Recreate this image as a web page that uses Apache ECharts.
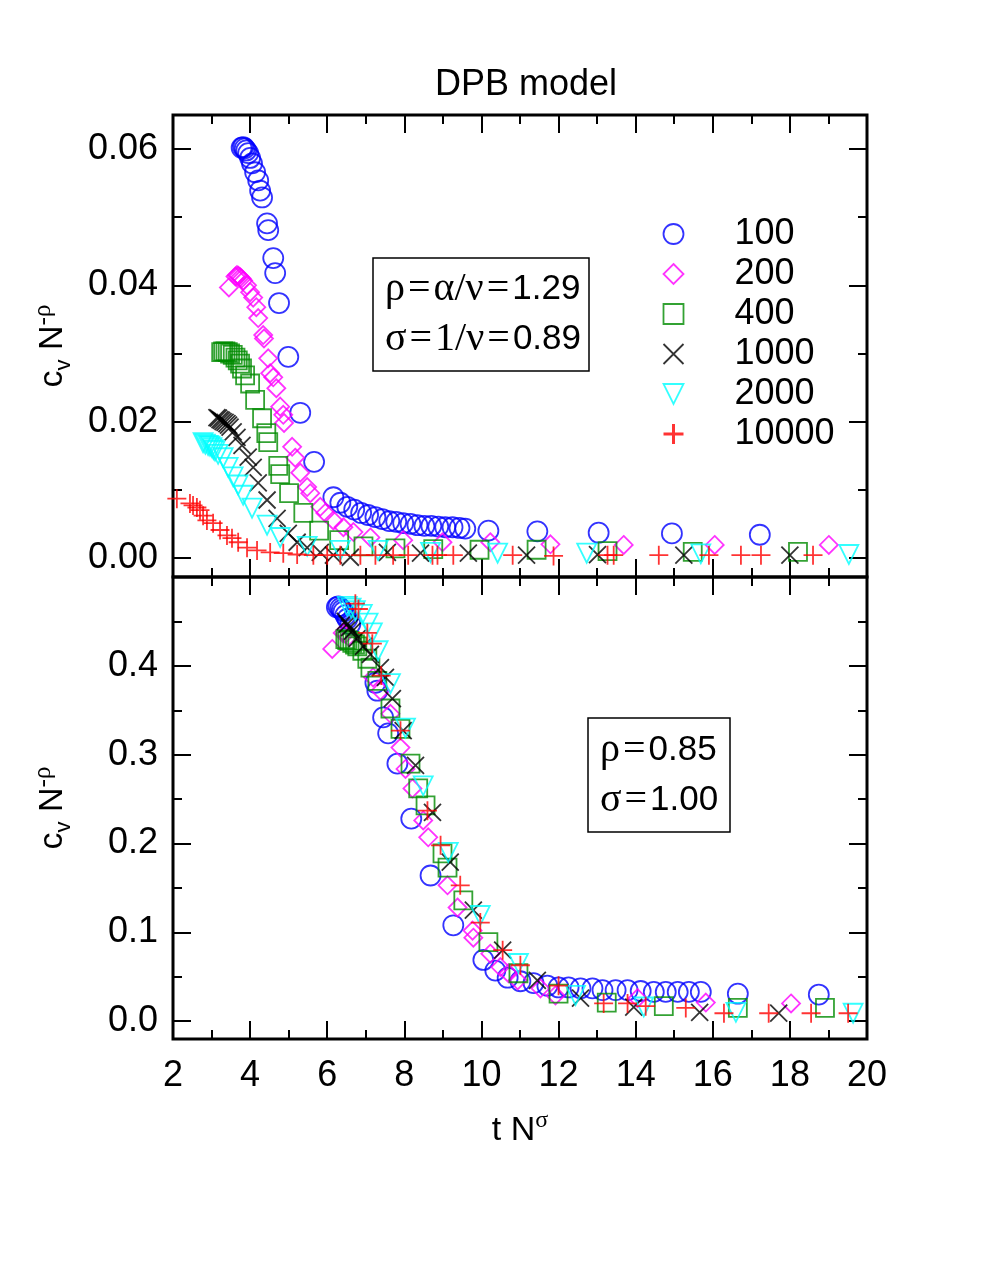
<!DOCTYPE html>
<html>
<head>
<meta charset="utf-8">
<script src="https://cdn.jsdelivr.net/npm/echarts@6/dist/echarts.min.js"></script>
<style>html,body{margin:0;padding:0;background:#fff}#c{width:981px;height:1270px}</style>
</head>
<body>
<div id="c"></div>
<script>
// ---------- data ----------
const seriesNames = ['100', '200', '400', '1000', '2000', '10000'];
const xTicks = [2, 4, 6, 8, 10, 12, 14, 16, 18, 20];
const topMajorTicks = [0, 0.02, 0.04, 0.06];
const topMinorTicks = [0.01, 0.03, 0.05];
const botMajorTicks = [0, 0.1, 0.2, 0.3, 0.4];
const botMinorTicks = [0.05, 0.15, 0.25, 0.35, 0.45];

const top100 = [[3.78,0.0602],[3.82,0.0603],[3.86,0.0601],[3.90,0.0598],[3.95,0.0594],[4.00,0.0587],[4.05,0.0579],[4.13,0.0566],[4.21,0.0554],[4.26,0.0539],[4.31,0.0529],[4.44,0.0491],[4.47,0.0481],[4.60,0.0440],[4.65,0.0418],[4.75,0.0374],[4.99,0.0295],[5.30,0.0213],[5.66,0.0141],[6.16,0.0089],[6.34,0.0081],[6.52,0.0075],[6.70,0.0071],[6.88,0.0066],[7.06,0.0063],[7.25,0.0060],[7.43,0.0057],[7.61,0.0054],[7.79,0.0053],[7.97,0.0051],[8.16,0.0050],[8.34,0.0048],[8.52,0.0047],[8.70,0.0047],[8.88,0.0046],[9.06,0.0045],[9.25,0.0045],[9.43,0.0044],[9.58,0.0043],[10.18,0.0040],[11.45,0.0039],[13.04,0.0037],[14.94,0.0036],[17.22,0.0034]];
const top200 = [[3.45,0.0397],[3.62,0.0413],[3.66,0.0415],[3.70,0.0414],[3.74,0.0412],[3.78,0.0410],[3.82,0.0407],[3.92,0.0400],[4.00,0.0390],[4.08,0.0382],[4.16,0.0368],[4.21,0.0352],[4.34,0.0327],[4.36,0.0322],[4.47,0.0293],[4.52,0.0271],[4.60,0.0265],[4.68,0.0249],[4.78,0.0222],[4.86,0.0210],[4.88,0.0198],[5.09,0.0163],[5.17,0.0147],[5.30,0.0125],[5.48,0.0104],[5.56,0.0095],[5.82,0.0075],[5.95,0.0066],[6.16,0.0055],[6.42,0.0045],[6.68,0.0038],[7.12,0.0030],[7.97,0.0026],[8.99,0.0023],[10.23,0.0023],[11.79,0.0020],[13.69,0.0019],[16.05,0.0019],[19.01,0.0019]];
const top400 = [[3.25,0.0302],[3.30,0.0303],[3.36,0.0303],[3.42,0.0302],[3.48,0.0300],[3.55,0.0298],[3.62,0.0294],[3.68,0.0290],[3.74,0.0285],[3.79,0.0278],[3.87,0.0268],[4.00,0.0256],[4.13,0.0232],[4.31,0.0205],[4.42,0.0183],[4.47,0.0170],[4.73,0.0135],[4.78,0.0123],[5.01,0.0095],[5.38,0.0066],[5.79,0.0040],[6.31,0.0026],[6.94,0.0017],[7.77,0.0014],[8.75,0.0013],[9.95,0.0012],[11.43,0.0012],[13.27,0.0010],[15.48,0.0009],[18.21,0.0009]];
const top1000 = [[3.14,0.0206],[3.18,0.0205],[3.22,0.0203],[3.26,0.0202],[3.30,0.0200],[3.35,0.0199],[3.40,0.0197],[3.44,0.0195],[3.48,0.0192],[3.56,0.0185],[3.66,0.0177],[3.79,0.0165],[3.95,0.0148],[4.08,0.0133],[4.21,0.0110],[4.44,0.0085],[4.70,0.0058],[4.99,0.0036],[5.22,0.0023],[5.48,0.0015],[5.82,0.0008],[6.16,0.0004],[6.60,0.0001],[7.56,0.0008],[8.42,0.0007],[9.66,0.0007],[11.17,0.0004],[13.01,0.0005],[15.25,0.0004],[18.00,0.0004]];
const top2000 = [[2.78,0.0169],[2.84,0.0167],[2.91,0.0165],[2.96,0.0164],[3.01,0.0162],[3.05,0.0159],[3.09,0.0157],[3.17,0.0152],[3.30,0.0147],[3.43,0.0133],[3.56,0.0119],[3.69,0.0107],[3.82,0.0092],[4.05,0.0073],[4.44,0.0048],[4.78,0.0030],[5.48,0.0017],[6.34,0.0011],[7.32,0.0011],[8.68,0.0008],[10.42,0.0007],[12.73,0.0007],[15.69,0.0006],[19.53,0.0005]];
const top10000 = [[2.10,0.0087],[2.44,0.0080],[2.52,0.0077],[2.62,0.0074],[2.70,0.0070],[2.78,0.0062],[2.88,0.0055],[3.04,0.0051],[3.22,0.0041],[3.40,0.0033],[3.53,0.0029],[3.69,0.0023],[3.92,0.0015],[4.18,0.0011],[4.52,0.0008],[4.86,0.0007],[5.22,0.0005],[5.64,0.0004],[6.00,0.0004],[6.34,0.0004],[6.86,0.0004],[7.25,0.0004],[7.71,0.0004],[8.10,0.0004],[8.73,0.0004],[8.86,0.0004],[9.27,0.0004],[10.81,0.0004],[11.87,0.0003],[13.27,0.0004],[13.43,0.0004],[14.60,0.0004],[15.90,0.0004],[16.73,0.0004],[17.25,0.0004],[18.60,0.0004]];

const bot100 = [[6.25,0.466],[6.29,0.467],[6.34,0.465],[6.38,0.463],[6.42,0.461],[6.47,0.457],[6.52,0.453],[6.60,0.447],[7.25,0.381],[7.30,0.372],[7.45,0.342],[7.58,0.324],[7.82,0.290],[8.18,0.228],[8.68,0.164],[9.27,0.108],[10.05,0.069],[10.36,0.057],[10.68,0.049],[11.01,0.045],[11.35,0.043],[11.71,0.040],[12.00,0.038],[12.26,0.038],[12.57,0.037],[12.88,0.037],[13.14,0.035],[13.48,0.035],[13.79,0.035],[14.13,0.034],[14.47,0.033],[14.78,0.033],[15.09,0.033],[15.38,0.033],[15.69,0.033],[16.65,0.031],[18.75,0.030]];
const bot200 = [[6.13,0.419],[6.40,0.437],[6.47,0.436],[6.55,0.433],[7.19,0.387],[7.38,0.372],[7.64,0.346],[7.90,0.308],[8.03,0.284],[8.21,0.262],[8.49,0.226],[8.62,0.207],[9.12,0.153],[9.38,0.128],[9.77,0.102],[9.79,0.094],[10.23,0.076],[10.49,0.061],[10.70,0.054],[10.94,0.046],[11.53,0.037],[11.92,0.029],[14.05,0.026],[15.82,0.021],[18.03,0.020]];
const bot400 = [[6.47,0.430],[6.52,0.429],[6.58,0.428],[6.65,0.426],[6.72,0.424],[6.78,0.422],[6.91,0.417],[7.04,0.408],[7.12,0.398],[7.30,0.383],[7.64,0.352],[7.90,0.329],[8.16,0.290],[8.36,0.262],[8.55,0.243],[8.99,0.189],[9.12,0.173],[9.53,0.136],[10.18,0.089],[10.96,0.054],[12.00,0.031],[13.25,0.021],[14.73,0.017],[16.65,0.015],[18.91,0.015]];
const bot1000 = [[6.47,0.450],[6.52,0.447],[6.58,0.443],[6.65,0.439],[6.78,0.431],[6.94,0.422],[7.12,0.413],[7.38,0.398],[7.51,0.387],[7.69,0.363],[7.97,0.327],[8.29,0.288],[8.73,0.235],[9.19,0.179],[9.79,0.125],[10.55,0.080],[11.45,0.046],[12.57,0.026],[13.95,0.016],[15.66,0.010],[17.71,0.009]];
const bot2000 = [[6.52,0.467],[6.62,0.465],[6.73,0.462],[6.91,0.458],[7.06,0.448],[7.17,0.437],[7.32,0.417],[7.64,0.380],[8.03,0.330],[8.49,0.265],[9.14,0.190],[9.97,0.119],[10.96,0.065],[12.44,0.029],[14.21,0.016],[16.60,0.010],[19.64,0.009]];
const bot10000 = [[6.73,0.470],[6.81,0.464],[7.04,0.437],[7.17,0.425],[7.40,0.389],[7.90,0.327],[8.60,0.237],[8.94,0.198],[9.45,0.153],[9.97,0.111],[10.55,0.080],[11.01,0.063],[12.00,0.040],[13.17,0.020],[13.79,0.020],[14.26,0.017],[15.30,0.015],[16.29,0.009],[17.45,0.009],[18.55,0.009],[19.51,0.009]];

// ---------- styling ----------
const FONT = 'Liberation Sans';
const SERIF = 'Liberation Serif';
const colors = ['#0000ff', '#ff00ff', '#008b00', '#000000', '#00ffff', '#ff0000'];
const seriesSymbols = ['circle', 'diamond', 'rect',
  'path://M0,0L10,10M10,0L0,10', 'path://M0,0L10,0L5,10Z', 'path://M5,0L5,10M0,5L10,5'];
const legendIcons = ['path://M0,5A5,5 0 1,1 10,5A5,5 0 1,1 0,5Z', 'path://M5,0L10,5L5,10L0,5Z',
  'path://M0,0L10,0L10,10L0,10Z', 'path://M0,0L10,10M10,0L0,10', 'path://M0,0L10,0L5,10Z',
  'path://M5,0L5,10M0,5L10,5'];
const sizes = [20, 18, 18, 17, 19, 19];
const topData = [top100, top200, top400, top1000, top2000, top10000];
const botData = [bot100, bot200, bot400, bot1000, bot2000, bot10000];

const tickLine = {color: '#000', width: 2};
function xAxisDef(grid, position, showLabel, name) {
  return {
    gridIndex: grid, type: 'value', min: 2, max: 20, interval: 2, position,
    axisLine: {show: false, onZero: false}, splitLine: {show: false},
    axisTick: {inside: true, length: 18, lineStyle: tickLine},
    minorTick: {show: true, splitNumber: 2, length: 9, lineStyle: tickLine},
    axisLabel: {show: showLabel, fontSize: 36, fontFamily: FONT, color: '#000', margin: 19},
    name: name || '', nameLocation: 'middle', nameGap: 70,
    nameTextStyle: {color: '#000', rich: {
      a: {fontSize: 34, fontFamily: FONT, color: '#000', lineHeight: 44},
      c: {fontSize: 24, fontFamily: SERIF, color: '#000', lineHeight: 24, verticalAlign: 'top'}
    }}
  };
}
function yAxisDefs(grid, min, max, majors, minors, dec) {
  const base = {gridIndex: grid, type: 'value', min, max,
    axisLine: {show: false, onZero: false}, splitLine: {show: false}};
  return [
    Object.assign({}, base, {position: 'left',
      axisTick: {inside: true, length: 18, lineStyle: tickLine, customValues: majors},
      axisLabel: {customValues: majors, formatter: v => v.toFixed(dec), fontSize: 36, fontFamily: FONT, color: '#000', margin: 15},
      name: '{a|c}{b|v}{a| N}{c|-ρ}', nameLocation: 'middle', nameRotate: 90, nameGap: 98,
      nameTextStyle: {color: '#000', rich: {
        a: {fontSize: 34, fontFamily: FONT, color: '#000', lineHeight: 44},
        b: {fontSize: 22, fontFamily: FONT, color: '#000', lineHeight: 26, verticalAlign: 'bottom'},
        c: {fontSize: 25, fontFamily: SERIF, color: '#000', lineHeight: 24, verticalAlign: 'top'}
      }}}),
    Object.assign({}, base, {position: 'left',
      axisTick: {inside: true, length: 9, lineStyle: tickLine, customValues: minors},
      axisLabel: {show: false}}),
    Object.assign({}, base, {position: 'right',
      axisTick: {inside: true, length: 18, lineStyle: tickLine, customValues: majors},
      axisLabel: {show: false}}),
    Object.assign({}, base, {position: 'right',
      axisTick: {inside: true, length: 9, lineStyle: tickLine, customValues: minors},
      axisLabel: {show: false}})
  ];
}

const series = [];
[topData, botData].forEach((dataSet, panel) => {
  dataSet.forEach((d, i) => {
    series.push({
      type: 'scatter', name: seriesNames[i],
      xAxisIndex: panel === 0 ? 0 : 2, yAxisIndex: panel === 0 ? 0 : 4,
      data: d, symbol: seriesSymbols[i], symbolSize: sizes[i],
      itemStyle: {color: 'rgba(0,0,0,0)', borderColor: colors[i], borderWidth: 1.8},
      emphasis: {disabled: true}, silent: true, animation: false
    });
  });
});

const boxRich = {
  g: {fontSize: 40, fontFamily: SERIF, fill: '#000'},
  e: {fontSize: 40, fontFamily: SERIF, fill: '#000', padding: [0, 3, 0, 3]},
  n: {fontSize: 35, fontFamily: FONT, fill: '#000'}
};

const option = {
  backgroundColor: '#fff',
  animation: false,
  title: {text: 'DPB model', left: 430, top: 62,
    textStyle: {fontSize: 36, fontWeight: 'normal', fontFamily: FONT, color: '#000'}},
  grid: [
    {left: 173, right: 114, top: 115, height: 462, show: true, borderColor: '#000', borderWidth: 3, backgroundColor: 'transparent'},
    {left: 173, right: 114, top: 577, height: 462, show: true, borderColor: '#000', borderWidth: 3, backgroundColor: 'transparent'}
  ],
  xAxis: [
    xAxisDef(0, 'bottom', false), xAxisDef(0, 'top', false),
    xAxisDef(1, 'bottom', true, '{a|t N}{c|σ}'), xAxisDef(1, 'top', false)
  ],
  yAxis: [].concat(
    yAxisDefs(0, -0.0028, 0.065, topMajorTicks, topMinorTicks, 2),
    yAxisDefs(1, -0.02, 0.5, botMajorTicks, botMinorTicks, 1)
  ),
  legend: {
    orient: 'vertical', left: 662, top: 214, padding: 0, itemGap: 0,
    itemWidth: 20, itemHeight: 20, selectedMode: false,
    formatter: '{gap|}{t|{name}}',
    textStyle: {fontSize: 36, fontFamily: FONT, color: '#000', lineHeight: 40,
      rich: {gap: {width: 46, height: 20}, t: {fontSize: 36, fontFamily: FONT, color: '#000', lineHeight: 40}}},
    data: seriesNames.map((n, i) => ({name: n, icon: legendIcons[i],
      itemStyle: {color: 'rgba(0,0,0,0)', borderColor: colors[i], borderWidth: i === 5 ? 3 : 1.8}}))
  },
  graphic: [
    {type: 'rect', shape: {x: 373, y: 258, width: 216, height: 113},
      style: {fill: '#fff', stroke: '#000', lineWidth: 1.5}, z: 100},
    {type: 'text', x: 385, y: 289, z: 101, style: {text: '{g|ρ}{e|=}{g|α/ν}{e|=}{n|1.29}', verticalAlign: 'middle', rich: boxRich}},
    {type: 'text', x: 385, y: 339, z: 101, style: {text: '{g|σ}{e|=}{g|1/ν}{e|=}{n|0.89}', verticalAlign: 'middle', rich: boxRich}},
    {type: 'rect', shape: {x: 588, y: 718, width: 142, height: 114},
      style: {fill: '#fff', stroke: '#000', lineWidth: 1.5}, z: 100},
    {type: 'text', x: 600, y: 750, z: 101, style: {text: '{g|ρ}{e|=}{n|0.85}', verticalAlign: 'middle', rich: boxRich}},
    {type: 'text', x: 600, y: 800, z: 101, style: {text: '{g|σ}{e|=}{n|1.00}', verticalAlign: 'middle', rich: boxRich}}
  ],
  series
};
const chart = echarts.init(document.getElementById('c'), null, {renderer: 'canvas'});
chart.setOption(option);
</script>
</body>
</html>
